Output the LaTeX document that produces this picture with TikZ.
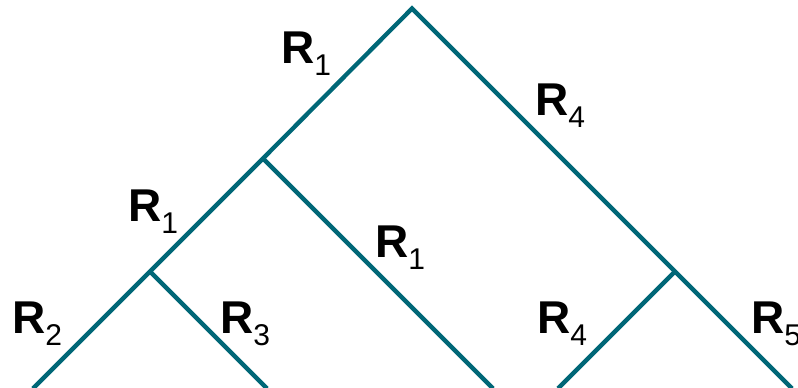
\documentclass[tikz,border=0pt]{standalone}
\usepackage{fontspec}
\setmainfont{Liberation Sans}
\definecolor{treeteal}{HTML}{006777}
\newcommand{\Rlab}[1]{\fontsize{46}{50}\selectfont\bfseries R\raisebox{-12pt}{\fontsize{30}{32}\selectfont\mdseries #1}}
\begin{document}
\begin{tikzpicture}[x=1pt,y=-1pt,
  branch/.style={draw=treeteal,line width=4.3pt,line join=miter,line cap=butt},
  lab/.style={inner sep=0pt,anchor=base west,text=black}]
\useasboundingbox (0,0) rectangle (798,388);
\clip (0,0) rectangle (798,388);
\coordinate (root) at (412,8.5);
\coordinate (jl) at (263,158.5);
\coordinate (jll) at (150,271.5);
\coordinate (jr) at (675,271.5);
\coordinate (leaf1) at (33,388.5);
\coordinate (leaf2) at (267,388.5);
\coordinate (leaf3) at (493,388.5);
\coordinate (leaf4) at (558,388.5);
\coordinate (leaf5) at (792,388.5);
\draw[branch] (leaf1) -- (jll) -- (jl) -- (root) -- (jr) -- (leaf5);
\draw[branch] (jl) -- (leaf3);
\draw[branch] (jll) -- (leaf2);
\draw[branch] (jr) -- (leaf4);
\node[lab] (r1a) at (281,63.5) {\Rlab{1}};
\node[lab] (r4a) at (535,115.5) {\Rlab{4}};
\node[lab] (r1b) at (128,221.5) {\Rlab{1}};
\node[lab] (r1c) at (375,257.5) {\Rlab{1}};
\node[lab] (r2) at (12,333.5) {\Rlab{2}};
\node[lab] (r3) at (220,333.5) {\Rlab{3}};
\node[lab] (r4b) at (537,333.5) {\Rlab{4}};
\node[lab] (r5) at (751,333.5) {\Rlab{5}};
\end{tikzpicture}
\end{document}
